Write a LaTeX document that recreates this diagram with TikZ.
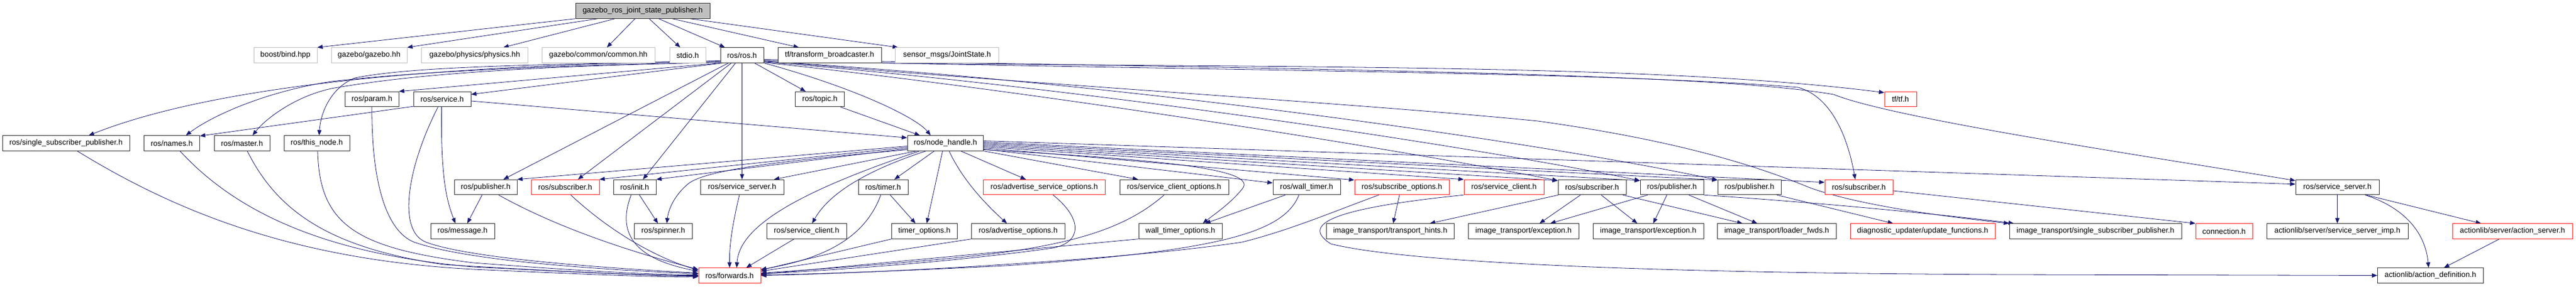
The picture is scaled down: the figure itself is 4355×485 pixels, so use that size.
\documentclass[tikz,border=0pt]{standalone}
\usepackage{fontspec}
\setmainfont{Liberation Sans}
\usetikzlibrary{arrows.meta}
\definecolor{edgec}{HTML}{191970}
\definecolor{redc}{HTML}{FF2020}
\definecolor{grayc}{HTML}{C0C0C0}
\definecolor{mainfill}{HTML}{BFBFBF}
\pgfdeclarelayer{background}
\pgfsetlayers{background,main}
\tikzset{
 nd/.style={rectangle, draw=black!80, line width=0.9pt, minimum height=25.5pt, inner sep=0pt, font=\fontsize{12.9}{15}\selectfont, text=black, fill=white},
 ndred/.style={nd, draw=redc},
 ndext/.style={nd, draw=grayc},
 e/.style={draw=edgec, line width=0.8pt, -{Triangle[length=9pt,width=7pt]}},
}
\begin{document}
\begin{tikzpicture}[x=1pt,y=-1pt]
\useasboundingbox (0,0) rectangle (4355,485);
% row 0
\node[nd, fill=mainfill, minimum width=227pt] (main) at (1086.5,18.5) {gazebo\_ros\_joint\_state\_publisher.h};
% row 1
\node[ndext, minimum width=107pt] (bind) at (482.5,93.5) {boost/bind.hpp};
\node[ndext, minimum width=128pt] (gaz) at (624,93.5) {gazebo/gazebo.hh};
\node[ndext, minimum width=180pt] (phys) at (802.5,93.5) {gazebo/physics/physics.hh};
\node[ndext, minimum width=191pt] (comm) at (1011.5,93.5) {gazebo/common/common.hh};
\node[ndext, minimum width=61pt] (stdio) at (1162.5,93.5) {stdio.h};
\node[nd, minimum width=73pt] (rosh) at (1254.5,93.5) {ros/ros.h};
\node[nd, minimum width=175pt] (tfb) at (1402.5,93.5) {tf/transform\_broadcaster.h};
\node[ndext, minimum width=175pt] (joint) at (1601.1,93.5) {sensor\_msgs/JointState.h};
% row 2
\node[nd, minimum width=90.4pt] (param) at (628.8,168) {ros/param.h};
\node[nd, minimum width=97pt] (serv) at (747.5,168) {ros/service.h};
\node[nd, minimum width=83pt] (topic) at (1386,168) {ros/topic.h};
\node[ndred, minimum width=54pt] (tftf) at (3213,168) {tf/tf.h};
% row 3
\node[nd, minimum width=215pt] (ssp) at (111.5,242.5) {ros/single\_subscriber\_publisher.h};
\node[nd, minimum width=94.5pt] (names) at (290.25,242.5) {ros/names.h};
\node[nd, minimum width=94pt] (master) at (409,242.5) {ros/master.h};
\node[nd, minimum width=111pt] (thisn) at (535.5,242.5) {ros/this\_node.h};
\node[nd, minimum width=128.5pt] (nh) at (1598.25,242.5) {ros/node\_handle.h};
% row 4
\node[nd, minimum width=106pt] (pub1) at (821,317) {ros/publisher.h};
\node[ndred, minimum width=115pt] (sub1) at (955.5,317) {ros/subscriber.h};
\node[nd, minimum width=72pt] (init) at (1073,317) {ros/init.h};
\node[nd, minimum width=141pt] (ssa) at (1254.5,317) {ros/service\_server.h};
\node[nd, minimum width=84pt] (timer) at (1493,317) {ros/timer.h};
\node[ndred, minimum width=206.6pt] (aso) at (1765.3,317) {ros/advertise\_service\_options.h};
\node[nd, minimum width=184pt] (sco) at (1985,317) {ros/service\_client\_options.h};
\node[nd, minimum width=114pt] (wt) at (2209,317) {ros/wall\_timer.h};
\node[ndred, minimum width=160pt] (subo) at (2370,317) {ros/subscribe\_options.h};
\node[ndred, minimum width=135pt] (scb) at (2542.5,317) {ros/service\_client.h};
\node[nd, minimum width=115pt] (subb) at (2691.5,317) {ros/subscriber.h};
\node[nd, minimum width=107pt] (pubb) at (2826.5,317) {ros/publisher.h};
\node[nd, minimum width=107pt] (pubc) at (2957.5,317) {ros/publisher.h};
\node[ndred, minimum width=115pt] (subc) at (3142.5,317) {ros/subscriber.h};
\node[nd, minimum width=141pt] (ssb) at (3951.5,317) {ros/service\_server.h};
% row 5
\node[nd, minimum width=108pt] (msg) at (782,391.5) {ros/message.h};
\node[nd, minimum width=97.5pt] (spin) at (1121.25,391.5) {ros/spinner.h};
\node[nd, minimum width=135pt] (sca) at (1363.5,391.5) {ros/service\_client.h};
\node[nd, minimum width=110.5pt] (topt) at (1562.75,391.5) {timer\_options.h};
\node[nd, minimum width=157.5pt] (ao) at (1721.25,391.5) {ros/advertise\_options.h};
\node[nd, minimum width=141pt] (wto) at (1995.5,391.5) {wall\_timer\_options.h};
\node[nd, minimum width=215.5pt] (th) at (2350.25,391.5) {image\_transport/transport\_hints.h};
\node[nd, minimum width=186.5pt] (exa) at (2575.75,391.5) {image\_transport/exception.h};
\node[nd, minimum width=187pt] (exb) at (2786.5,391.5) {image\_transport/exception.h};
\node[nd, minimum width=200.4pt] (lf) at (3003.8,391.5) {image\_transport/loader\_fwds.h};
\node[ndred, minimum width=245pt] (uf) at (3250.5,391.5) {diagnostic\_updater/update\_functions.h};
\node[nd, minimum width=291pt] (issp) at (3542.5,391.5) {image\_transport/single\_subscriber\_publisher.h};
\node[ndred, minimum width=96pt] (conn) at (3760,391.5) {connection.h};
\node[nd, minimum width=239pt] (ssimp) at (3951.5,391.5) {actionlib/server/service\_server\_imp.h};
\node[ndred, minimum width=203pt] (as) at (4247.5,391.5) {actionlib/server/action\_server.h};
% row 6
\node[ndred, minimum width=105pt] (fwd) at (1233.5,466.5) {ros/forwards.h};
\node[nd, minimum width=178.5pt] (ad) at (4108.75,466.5) {actionlib/action\_definition.h};

\begin{pgfonlayer}{background}
\fill[white] (0,0) rectangle (4355,485);
% ---- main includes
\draw[e] (main.south west) -- (bind.north east);
\draw[e] ([xshift=38pt]main.south west) -- (gaz.north east);
\draw[e] ([xshift=67pt]main.south west) -- ([xshift=48.5pt]phys.north);
\draw[e] ([xshift=101pt]main.south west) -- ([xshift=14.5pt]comm.north);
\draw[e] ([xshift=125pt]main.south west) -- ([xshift=-12.5pt]stdio.north);
\draw[e] ([xshift=141pt]main.south west) -- ([xshift=8pt]rosh.north west);
\draw[e] ([xshift=164pt]main.south west) -- ([xshift=36pt]tfb.north west);
\draw[e] ([xshift=194pt]main.south west) -- ([xshift=5pt]joint.north west);

% ---- ros.h to the left
\draw[e] ([yshift=3pt]rosh.south west) .. controls (700,110) and (350,150) .. ([xshift=38.5pt]ssp.north);
\draw[e] ([yshift=2pt]rosh.south west) .. controls (900,112) and (700,122) .. (560,138) .. controls (450,155) and (360,195) .. ([xshift=24pt]names.north);
\draw[e] ([yshift=1pt]rosh.south west) .. controls (900,112) and (700,125) .. (560,150) .. controls (500,163) and (450,200) .. ([xshift=18pt]master.north);
\draw[e] ([yshift=4pt]rosh.south west) .. controls (900,110) and (700,112) .. (600,132) .. controls (560,148) and (542,190) .. ([xshift=4pt]thisn.north);
\draw[e] (rosh.south west) -- (param.north east);
\draw[e] ([xshift=4pt]rosh.south west) -- ([yshift=-5pt]serv.north east);
\draw[e] ([xshift=14pt]rosh.south west) -- ([xshift=30pt]pub1.north);
\draw[e] ([xshift=19pt]rosh.south west) -- ([xshift=21.5pt]sub1.north);
\draw[e] ([xshift=26pt]rosh.south west) -- ([xshift=14pt]init.north);
\draw[e] (rosh.south) -- (ssa.north);
\draw[e] ([xshift=58pt]rosh.south west) -- ([xshift=-24pt]topic.north);
\draw[e] (rosh.south east) .. controls (1450,150) and (1550,200) .. ([xshift=-25pt]nh.north);

% ---- ros.h to the right
\draw[e] ([yshift=1pt]rosh.south east) .. controls (1800,160) and (2400,260) .. ([yshift=-2pt]subb.north west);
\draw[e] ([yshift=2pt]rosh.south east) .. controls (1850,150) and (2500,250) .. ([yshift=-2pt]pubb.north west);
\draw[e] ([yshift=3pt]rosh.south east) .. controls (1900,140) and (2600,240) .. ([yshift=-1pt]pubc.north west);
\draw[e] ([yshift=4pt]rosh.south east) .. controls (1700,140) and (2300,175) .. (2600,205) .. controls (2850,240) and (2980,285) .. (3060,318) .. controls (3150,350) and (3300,368) .. (issp.north west);
\draw[e] ([yshift=5pt]rosh.south east) .. controls (2000,120) and (2700,120) .. (3040,148) .. controls (3100,165) and (3125,240) .. ([xshift=-6pt]subc.north);
\draw[e] ([yshift=6pt]rosh.south east) .. controls (2300,118) and (2900,125) .. (3100,160) .. controls (3200,200) and (3600,260) .. ([yshift=-2pt]ssb.north west);
\draw[e] (tfb.south east) .. controls (2200,115) and (2800,108) .. ([yshift=-2pt]tftf.north west);

% ---- node_handle to the right
\draw[e] ([xshift=26pt]nh.south) -- ([xshift=-31pt]aso.north);
\draw[e] (nh.south east) -- ([xshift=-61pt]sco.north);
\draw[e] ([yshift=-10pt]nh.east) -- ([yshift=-6pt]wt.north west);
\draw[e] ([yshift=-8pt]nh.east) -- ([yshift=-1pt]subo.north west);
\draw[e] ([yshift=-6pt]nh.east) -- (scb.north west);
\draw[e] ([yshift=-4pt]nh.east) -- ([yshift=-2pt]subb.north west);
\draw[e] ([yshift=-2pt]nh.east) -- ([yshift=-2pt]pubb.north west);
\draw[e] (nh.east) -- ([yshift=-1pt]pubc.north west);
\draw[e] ([yshift=2pt]nh.east) -- ([yshift=-5pt]subc.north west);
\draw[e] ([yshift=4pt]nh.east) -- ([yshift=-8pt]ssb.north west);
\draw[e] ([yshift=-11pt]nh.east) .. controls (1950,270) and (2130,285) .. (2100,320) .. controls (2080,345) and (2050,365) .. ([xshift=38pt]wto.north);

% ---- node_handle to the left / below
\draw[e] ([yshift=-5pt]nh.west) -- (pub1.north east);
\draw[e] ([yshift=-7pt]nh.west) -- (sub1.north east);
\draw[e] ([yshift=-9pt]nh.west) -- (init.north east);
\draw[e] ([yshift=-11pt]nh.west) .. controls (1350,270) and (1200,285) .. (1165,310) .. controls (1140,330) and (1130,355) .. ([xshift=6pt]spin.north);
\draw[e] ([xshift=16pt]nh.south west) -- ([xshift=54pt]ssa.north);
\draw[e] ([xshift=21pt]nh.south west) .. controls (1380,315) and (1250,375) .. ([xshift=12pt]fwd.north);
\draw[e] ([xshift=32pt]nh.south west) .. controls (1460,290) and (1400,330) .. ([xshift=9.5pt]sca.north);
\draw[e] ([xshift=46pt]nh.south west) -- ([xshift=19pt]timer.north);
\draw[e] ([xshift=60pt]nh.south west) -- ([xshift=4pt]topt.north);
\draw[e] ([xshift=71pt]nh.south west) .. controls (1625,300) and (1660,340) .. ([xshift=-19pt]ao.north);

% ---- topic, service, param
\draw[e] ([xshift=-7pt]topic.south east) -- ([xshift=-43pt]nh.north);
\draw[e] ([yshift=-3pt]serv.east) -- ([yshift=-4pt]nh.north west);
\draw[e] ([yshift=1pt]serv.south west) -- ([yshift=-1pt]names.north east);
\draw[e] ([xshift=-1pt]serv.south) .. controls (745,300) and (755,340) .. ([xshift=-12pt]msg.north);
\draw[e] ([xshift=-7pt]serv.south) .. controls (690,280) and (670,390) .. (720,410) .. controls (800,440) and (1050,455) .. ([yshift=4pt]fwd.west);
\draw[e] (param.south) .. controls (628,300) and (650,390) .. (700,410) .. controls (800,445) and (1050,458) .. ([yshift=3pt]fwd.west);

% ---- row 3 left to forwards
\draw[e] ([xshift=1.5pt]thisn.south) .. controls (540,380) and (600,420) .. (800,445) .. controls (1000,460) and (1100,465) .. ([yshift=1pt]fwd.west);
\draw[e] ([xshift=9pt]master.south) .. controls (470,360) and (560,420) .. (750,448) .. controls (950,460) and (1100,467) .. (fwd.west);
\draw[e] ([xshift=14pt]names.south) .. controls (400,360) and (550,430) .. (800,452) .. controls (1000,462) and (1120,468) .. ([yshift=-1pt]fwd.west);
\draw[e] ([xshift=19pt]ssp.south) .. controls (300,360) and (500,440) .. (800,456) .. controls (1000,465) and (1120,470) .. ([yshift=-2pt]fwd.west);

% ---- row 4 left part
\draw[e] ([xshift=-6pt]pub1.south) -- ([xshift=8pt]msg.north);
\draw[e] ([xshift=22pt]pub1.south) .. controls (950,390) and (1080,430) .. ([yshift=-3pt]fwd.north west);
\draw[e] ([xshift=9.5pt]sub1.south) .. controls (1040,400) and (1120,440) .. ([yshift=-4pt]fwd.north west);
\draw[e] ([xshift=-6pt]init.south) .. controls (1040,400) and (1080,440) .. ([yshift=-6pt]fwd.north west);
\draw[e] ([xshift=8pt]init.south) -- ([xshift=-9pt]spin.north);
\draw[e] ([xshift=-4.5pt]ssa.south) .. controls (1236,390) and (1233,420) .. (fwd.north);
\draw[e] ([xshift=-21pt]sca.south) -- ([xshift=28pt]fwd.north);
\draw[e] ([xshift=-4pt]timer.south) .. controls (1460,410) and (1380,440) .. ([yshift=-3pt]fwd.north east);
\draw[e] ([xshift=12pt]timer.south) -- ([xshift=-15pt]topt.north);
\draw[e] (topt.south west) -- ([yshift=-4pt]fwd.north east);
\draw[e] (ao.south west) -- ([yshift=-6pt]fwd.north east);
\draw[e] ([xshift=15pt]aso.south) .. controls (1830,370) and (1830,410) .. (1780,420) .. controls (1600,445) and (1400,458) .. ([yshift=3pt]fwd.east);
\draw[e] ([xshift=-17pt]sco.south) .. controls (1900,390) and (1800,420) .. (1600,438) .. controls (1450,452) and (1350,458) .. ([yshift=4pt]fwd.east);
\draw[e] (wto.south west) -- ([yshift=2pt]fwd.east);
\draw[e] ([xshift=-36pt]wt.south) -- ([xshift=42pt]wto.north);
\draw[e] ([xshift=-13pt]wt.south) .. controls (2170,395) and (2060,425) .. (1700,450) .. controls (1500,460) and (1350,465) .. ([yshift=1pt]fwd.east);
\draw[e] ([xshift=-39pt]subo.south) .. controls (2250,360) and (2180,390) .. (2100,410) .. controls (1900,440) and (1500,462) .. (fwd.east);
\draw[e] ([xshift=-4pt]subo.south) -- ([xshift=5pt]th.north);
\draw[e] (scb.south west) .. controls (2280,350) and (2190,375) .. (2250,413) .. controls (2400,450) and (2900,463) .. (3400,465) -- (ad.west);

% ---- row 4 right part
\draw[e] ([xshift=1pt]subb.south west) -- ([xshift=67pt]th.north);
\draw[e] ([xshift=-19.5pt]subb.south) -- ([xshift=27pt]exa.north);
\draw[e] ([xshift=15.5pt]subb.south) -- ([xshift=-18.5pt]exb.north);
\draw[e] ([xshift=-6pt]subb.south east) -- ([xshift=-58pt]lf.north);
\draw[e] ([xshift=13pt]pubb.south west) -- ([xshift=45pt]exa.north);
\draw[e] ([xshift=-8.5pt]pubb.south) -- ([xshift=8.5pt]exb.north);
\draw[e] ([xshift=28.5pt]pubb.south) -- ([xshift=-33pt]lf.north);
\draw[e] (pubb.south east) .. controls (3100,345) and (3300,365) .. ([xshift=8pt]issp.north west);
\draw[e] ([xshift=46.5pt]pubc.south) -- ([xshift=-50pt]uf.north);
\draw[e] ([yshift=-6pt]subc.east) -- (conn.north west);
\draw[e] (ssb.south) -- (ssimp.north);
\draw[e] ([xshift=-22pt]ssb.south east) -- ([xshift=-53pt]as.north);
\draw[e] ([xshift=-24pt]ssb.south east) .. controls (4060,350) and (4100,390) .. ([xshift=-3pt]ad.north);
\draw[e] ([xshift=-22pt]as.south) -- ([xshift=23pt]ad.north);
\end{pgfonlayer}
\end{tikzpicture}
\end{document}
